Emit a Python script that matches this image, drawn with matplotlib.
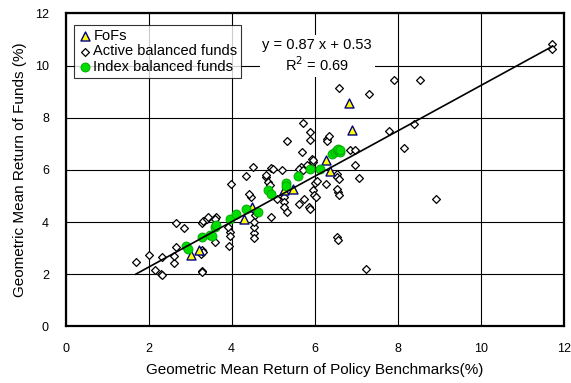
import matplotlib
matplotlib.use('Agg')
import matplotlib.pyplot as plt
import numpy as np

plt.rcParams['font.family'] = ['Liberation Sans', 'DejaVu Sans']

# FoFs (benchmark return, fund return)
fofs_x = [3.01, 3.21, 4.29, 4.50, 5.27, 5.47, 6.28, 6.37, 6.83, 6.89]
fofs_y = [2.72, 2.92, 4.13, 4.58, 5.24, 5.28, 6.37, 5.96, 8.57, 7.52]

# Active balanced funds
active_x = [1.69, 2.02, 2.15, 2.30, 2.32, 2.32, 2.60, 2.60, 2.67, 2.65,
            2.85, 3.28, 3.28, 3.26, 3.28, 3.30, 3.28, 3.30, 3.40, 3.44,
            3.62, 3.60, 3.60, 3.93, 3.95, 3.96, 3.92, 3.98, 4.34, 4.52,
            4.55, 4.55, 4.55, 4.55, 4.56, 4.59, 4.46, 4.43, 4.94, 4.84,
            4.88, 4.92, 4.82, 4.96, 5.00, 5.09, 5.22, 5.27, 5.27, 5.27,
            5.34, 5.33, 5.62, 5.67, 5.69, 5.73, 5.75, 5.86, 5.88, 5.89,
            5.89, 5.93, 5.97, 5.95, 5.97, 5.98, 6.03, 6.00, 6.05, 5.81,
            5.63, 5.73, 6.29, 6.31, 6.35, 6.27, 6.53, 6.55, 6.59, 6.57,
            6.59, 6.55, 6.53, 6.56, 6.85, 6.97, 6.97, 7.08, 6.58, 7.31,
            7.91, 8.55, 7.79, 8.39, 8.15, 8.92, 7.24, 11.73, 11.73]
active_y = [2.46, 2.72, 2.16, 2.00, 1.95, 2.66, 2.41, 2.69, 3.04, 3.98,
            3.77, 2.13, 2.07, 2.78, 2.92, 2.84, 3.95, 4.04, 4.13, 4.20,
            4.20, 4.10, 3.24, 3.07, 3.62, 3.45, 3.79, 5.47, 5.75, 6.12,
            3.58, 3.37, 3.80, 4.00, 4.26, 4.39, 4.97, 5.08, 4.20, 5.73,
            5.54, 5.41, 5.79, 6.08, 6.05, 4.90, 6.00, 4.96, 4.77, 4.58,
            4.39, 7.10, 4.68, 6.11, 6.69, 7.80, 4.90, 4.58, 4.50, 7.47,
            7.13, 6.43, 6.31, 6.36, 5.22, 5.05, 4.96, 5.50, 5.58, 6.18,
            6.05, 6.00, 7.20, 7.11, 7.29, 5.47, 5.86, 5.73, 5.65, 5.16,
            5.04, 5.25, 3.43, 3.32, 6.76, 6.76, 6.17, 5.67, 9.13, 8.92,
            9.46, 9.46, 7.49, 7.75, 6.84, 4.87, 2.18, 10.84, 10.62]

# Index balanced funds
index_x = [2.90, 2.96, 3.28, 3.49, 3.53, 3.60, 3.62, 3.96, 4.10, 4.34,
           4.64, 4.88, 4.94, 5.30, 5.32, 5.60, 5.89, 6.13, 6.42, 6.49,
           6.53, 6.57, 6.61, 6.60]
index_y = [3.08, 2.98, 3.41, 3.50, 3.46, 3.81, 3.88, 4.10, 4.30, 4.48,
           4.39, 5.22, 5.08, 5.50, 5.40, 5.77, 6.05, 6.05, 6.59, 6.68,
           6.75, 6.81, 6.68, 6.75]

trend_slope = 0.87
trend_intercept = 0.53
r_squared = 0.69

ticks = [0, 2, 4, 6, 8, 10, 12]

fig = plt.figure(figsize=(5.71, 3.83), dpi=100)
ax = fig.add_axes([0.115, 0.148, 0.872, 0.817])

ax.scatter(fofs_x, fofs_y, marker='^', s=42, facecolor='#FFFF00',
           edgecolor='#000080', linewidth=1.0, zorder=3, label='FoFs')
ax.scatter(active_x, active_y, marker='D', s=16, facecolor='white',
           edgecolor='black', linewidth=0.9, zorder=2,
           label='Active balanced funds')
ax.scatter(index_x, index_y, marker='o', s=42, facecolor='#00DD00',
           edgecolor='#00A000', linewidth=0.6, zorder=4,
           label='Index balanced funds')

all_x = fofs_x + active_x + index_x
xs = np.array([min(all_x), max(all_x)])
ax.plot(xs, trend_slope * xs + trend_intercept, color='black', lw=1.2, zorder=5)

ax.text(6.06, 10.37, f'y = {trend_slope} x + {trend_intercept}\nR$^2$ = {r_squared}',
        ha='center', va='center', fontsize=10.5, linespacing=1.25, zorder=6,
        bbox=dict(facecolor='white', edgecolor='none', pad=2))

ax.set_xlim(0, 12)
ax.set_ylim(0, 12)
ax.set_xticks(ticks)
ax.set_yticks(ticks)
ax.tick_params(length=0, labelsize=9)
ax.tick_params(axis='y', pad=12)
ax.tick_params(axis='x', pad=12)
ax.grid(True, color='black', lw=0.8)
ax.set_axisbelow(True)
for sp in ax.spines.values():
    sp.set_linewidth(1.6)

ax.set_xlabel('Geometric Mean Return of Policy Benchmarks(%)', fontsize=11, labelpad=6)
ax.set_ylabel('Geometric Mean Return of Funds (%)', fontsize=11, labelpad=6)

leg = ax.legend(loc='upper left', bbox_to_anchor=(0.016, 0.963), fontsize=10.5,
                frameon=True, fancybox=False, handletextpad=0.1,
                handlelength=1.0, borderpad=0.25, labelspacing=0.12,
                borderaxespad=0)
leg.get_frame().set_edgecolor('black')
leg.get_frame().set_linewidth(0.8)

fig.savefig('out.png', dpi=100)
